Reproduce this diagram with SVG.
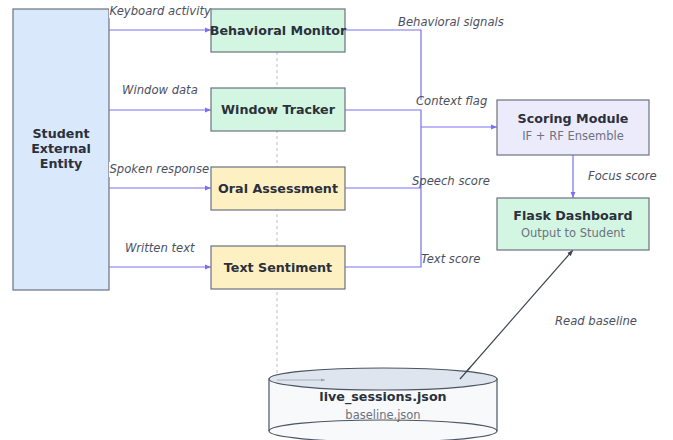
<svg xmlns="http://www.w3.org/2000/svg" width="673" height="440" viewBox="0 0 673 440">
<style>
.box{stroke:#6b7280;stroke-width:1.2}
.t{font-family:"DejaVu Sans",sans-serif;font-weight:bold;font-size:12.7px;fill:#2b303b;text-anchor:middle}
.s{font-family:"DejaVu Sans",sans-serif;font-size:11.5px;fill:#6b7280;text-anchor:middle}
.e{font-family:"DejaVu Sans",sans-serif;font-style:italic;font-size:11.6px;fill:#4b5060}
.c{fill:none;stroke:#7b70f2;stroke-width:1.2}
</style>
<defs>
<marker id="a" viewBox="0 0 10 10" refX="10" refY="5" markerWidth="5" markerHeight="5" orient="auto"><path d="M0,1 L10,5 L0,9 z" fill="#7b70f2"/></marker>
<marker id="d" viewBox="0 0 10 10" refX="10" refY="5" markerWidth="5" markerHeight="5" orient="auto"><path d="M0,1 L10,5 L0,9 z" fill="#3d4450"/></marker>
<marker id="g" viewBox="0 0 10 10" refX="10" refY="5" markerWidth="5" markerHeight="5" orient="auto"><path d="M0,1 L10,5 L0,9 z" fill="#9aa3b2"/></marker>
</defs>
<rect width="673" height="440" fill="#fff"/>
<g id="student"><rect class="box" x="13" y="9" width="96" height="281" fill="#dae8fc"/>
<text class="t" x="61" y="138">Student</text><text class="t" x="61" y="153">External</text><text class="t" x="61" y="168">Entity</text></g>
<g id="connectors">
<path d="M277,52 V380" stroke="#a3acc8" stroke-width="0.8" stroke-dasharray="3,3" fill="none"/>
<path class="c" d="M109,30 H211" marker-end="url(#a)"/>
<path class="c" d="M109,110 H211" marker-end="url(#a)"/>
<path class="c" d="M109,188 H211" marker-end="url(#a)"/>
<path class="c" d="M109,267 H211" marker-end="url(#a)"/>
<path class="c" d="M345,30 H421 V100"/>
<path class="c" d="M345,110 H421 V267 H345"/>
<path class="c" d="M345,188 H421"/>
<path class="c" d="M421,127 H497" marker-end="url(#a)"/>
<path class="c" d="M573,155 V198" marker-end="url(#a)"/>
<path d="M460,379 L573,250" stroke="#3d4450" stroke-width="1.2" fill="none" marker-end="url(#d)"/>
<rect x="109" y="3" width="103" height="15" fill="#fff"/>
<text class="e" x="109.5" y="15">Keyboard activity</text>
<text class="e" x="122" y="94">Window data</text>
<rect x="109" y="162" width="103" height="15" fill="#fff"/>
<text class="e" x="109.5" y="173">Spoken response</text>
<text class="e" x="125" y="252">Written text</text>
<text class="e" x="398" y="26">Behavioral signals</text>
<text class="e" x="416" y="105">Context flag</text>
<text class="e" x="412" y="185">Speech score</text>
<text class="e" x="421" y="263">Text score</text>
<text class="e" x="588" y="180">Focus score</text>
<text class="e" x="555" y="325">Read baseline</text>
</g>
<g id="bm"><rect class="box" x="211" y="9" width="134" height="43" fill="#d3f6e3"/><text class="t" x="278" y="35">Behavioral Monitor</text></g>
<g id="wt"><rect class="box" x="211" y="88" width="134" height="43" fill="#d3f6e3"/><text class="t" x="278" y="114">Window Tracker</text></g>
<g id="oa"><rect class="box" x="211" y="167" width="134" height="43" fill="#fdf1c4"/><text class="t" x="278" y="193">Oral Assessment</text></g>
<g id="ts"><rect class="box" x="211" y="246" width="134" height="43" fill="#fdf1c4"/><text class="t" x="278" y="272">Text Sentiment</text></g>
<g id="sm"><rect class="box" x="497" y="100" width="152" height="55" fill="#ecebfc"/><text class="t" x="573" y="123">Scoring Module</text><text class="s" x="573" y="140">IF + RF Ensemble</text></g>
<g id="fd"><rect class="box" x="497" y="198" width="152" height="52" fill="#d3f6e3"/><text class="t" x="573" y="220">Flask Dashboard</text><text class="s" x="573" y="237">Output to Student</text></g>
<g id="db">
<path d="M269,379 V431 A114,11 0 0 0 497,431 V379 Z" fill="#f7f9fb" stroke="#4b5563" stroke-width="1.2"/>
<ellipse cx="383" cy="379" rx="114" ry="11" fill="#dfe5ee" stroke="#4b5563" stroke-width="1.2"/>
<path d="M277,380 H325" stroke="#9aa3b2" stroke-width="0.8" fill="none" marker-end="url(#g)"/>
<path d="M460,379 L470,367.6" stroke="#3d4450" stroke-width="1.2"/>
<text class="t" x="383" y="401">live_sessions.json</text>
<text class="s" x="383" y="419">baseline.json</text>
<path d="M269,431 A114,11 0 0 1 497,431" fill="none" stroke="#4b5563" stroke-width="1.2"/>
</g>
</svg>
